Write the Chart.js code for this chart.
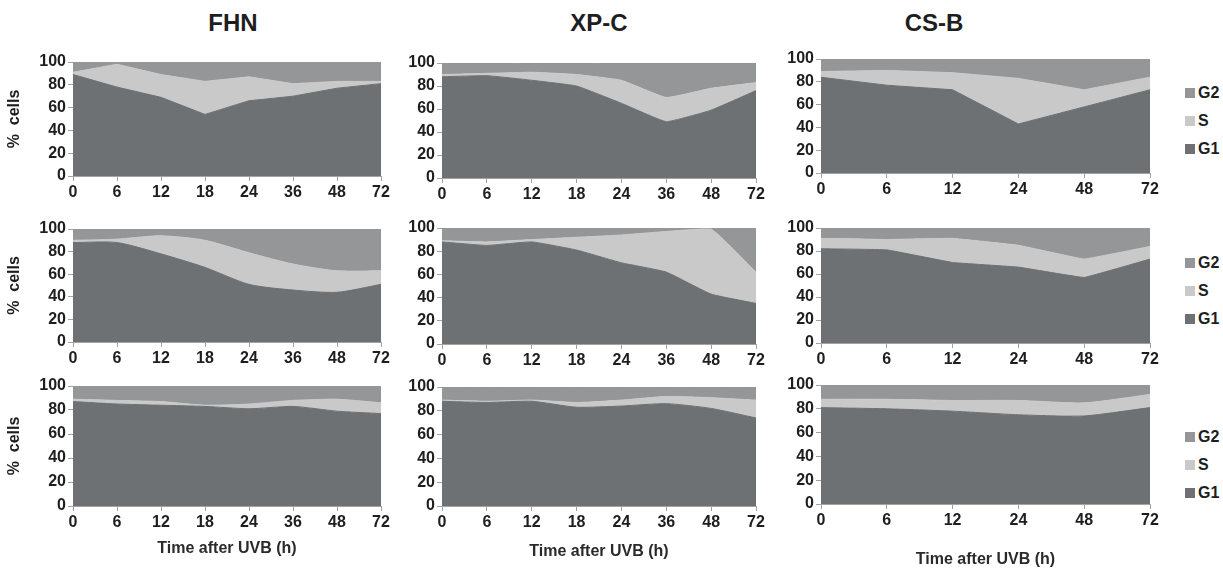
<!DOCTYPE html>
<html>
<head>
<meta charset="utf-8">
<script src="https://cdn.jsdelivr.net/npm/chart.js@4.4.1/dist/chart.umd.min.js"></script>
<style>
  body { margin: 0; background: #fff; width: 1223px; height: 575px; position: relative; overflow: hidden;
         font-family: "Liberation Sans", Arial, sans-serif; }
  canvas { position: absolute; }
  .title { position: absolute; font-weight: bold; font-size: 24px; line-height: 28px; color: #1e1e1e; transform: translateX(-50%); }
  .legend { position: absolute; left: 1185px; font-weight: bold; font-size: 16px; color: #1e1e1e; }
  .legend div { height: 28px; display: flex; align-items: center; }
  .legend .sw { width: 10px; height: 10px; margin-right: 3px; display: inline-block; }
</style>
</head>
<body>
<div class="title" style="left:233px;top:9px">FHN</div>
<div class="title" style="left:599px;top:9px">XP-C</div>
<div class="title" style="left:934px;top:9px">CS-B</div>

<script>
// time points (h)
const hours8 = ['0', '6', '12', '18', '24', '36', '48', '72'];
const hours6 = ['0', '6', '12', '24', '48', '72'];
const phases = ['G1', 'S', 'G2'];

// row 1
const fhn1G1 = [89, 78, 69, 54, 66, 70, 77, 81];
const fhn1S  = [2, 20, 20, 29, 21, 11, 6, 2];
const fhn1G2 = [9, 2, 11, 17, 13, 19, 17, 17];
const xpc1G1 = [88, 89, 85, 80, 65, 49, 59, 76];
const xpc1S  = [2, 2, 7, 10, 20, 21, 19, 7];
const xpc1G2 = [10, 9, 8, 10, 15, 30, 22, 17];
const csb1G1 = [84, 77, 73, 43, 58, 73];
const csb1S  = [5, 13, 15, 40, 15, 11];
const csb1G2 = [11, 10, 12, 17, 27, 16];

// row 2
const fhn2G1 = [88, 88, 78, 66, 51, 46, 44, 51];
const fhn2S  = [2, 3, 16, 24, 28, 23, 19, 12];
const fhn2G2 = [10, 9, 6, 10, 21, 31, 37, 37];
const xpc2G1 = [88, 85, 88, 81, 70, 62, 43, 35];
const xpc2S  = [1, 3, 2, 11, 24, 35, 56, 27];
const xpc2G2 = [11, 12, 10, 8, 6, 3, 1, 38];
const csb2G1 = [82, 81, 70, 66, 57, 73];
const csb2S  = [9, 9, 21, 19, 16, 11];
const csb2G2 = [9, 10, 9, 15, 27, 16];

// row 3
const fhn3G1 = [87, 85, 84, 83, 81, 83, 79, 77];
const fhn3S  = [2, 3, 3, 1, 4, 5, 10, 9];
const fhn3G2 = [11, 12, 13, 16, 15, 12, 11, 14];
const xpc3G1 = [88, 87, 88, 83, 84, 86, 82, 74];
const xpc3S  = [1, 1, 1, 4, 5, 6, 9, 15];
const xpc3G2 = [11, 12, 11, 13, 11, 8, 9, 11];
const csb3G1 = [81, 80, 78, 75, 74, 81];
const csb3S  = [7, 8, 9, 12, 11, 11];
const csb3G2 = [12, 12, 13, 13, 15, 8];

const colors = { G1: '#6d7173', S: '#c9c9c9', G2: '#949698' };
const axisColor = '#a3a3a3';
const textColor = '#1e1e1e';

// plot area edges per column, and per panel top/bottom
const cols = [
  { left: 73, right: 381 },
  { left: 442, right: 756 },
  { left: 821, right: 1150 }
];

const panels = [
  { col: 0, row: 0, labels: hours8, data: [fhn1G1, fhn1S, fhn1G2], top: 62, bottom: 176, tension: 0 },
  { col: 1, row: 0, labels: hours8, data: [xpc1G1, xpc1S, xpc1G2], top: 63, bottom: 178, tension: 0.1 },
  { col: 2, row: 0, labels: hours6, data: [csb1G1, csb1S, csb1G2], top: 59, bottom: 173, tension: 0 },
  { col: 0, row: 1, labels: hours8, data: [fhn2G1, fhn2S, fhn2G2], top: 229, bottom: 342, tension: 0.25 },
  { col: 1, row: 1, labels: hours8, data: [xpc2G1, xpc2S, xpc2G2], top: 228, bottom: 344, tension: 0.12 },
  { col: 2, row: 1, labels: hours6, data: [csb2G1, csb2S, csb2G2], top: 228, bottom: 343, tension: 0.05 },
  { col: 0, row: 2, labels: hours8, data: [fhn3G1, fhn3S, fhn3G2], top: 386, bottom: 506, tension: 0.2, xH: 56 },
  { col: 1, row: 2, labels: hours8, data: [xpc3G1, xpc3S, xpc3G2], top: 387, bottom: 506, tension: 0.2, xH: 59 },
  { col: 2, row: 2, labels: hours6, data: [csb3G1, csb3S, csb3G2], top: 385, bottom: 504, tension: 0.2, xH: 69 }
];

const tickFont = { family: '"Liberation Sans", Arial, sans-serif', size: 16, weight: 'bold' };

function makeChart(p) {
  const c = cols[p.col];
  const yW = p.col === 0 ? 73 : 45;
  const padTop = 12, padRight = 14;
  const xH = p.xH || 30;
  const w = yW + (c.right - c.left) + padRight;
  const h = padTop + (p.bottom - p.top) + xH;

  const canvas = document.createElement('canvas');
  canvas.width = w;
  canvas.height = h;
  canvas.style.left = (c.left - yW) + 'px';
  canvas.style.top = (p.top - padTop) + 'px';
  canvas.style.width = w + 'px';
  canvas.style.height = h + 'px';
  document.body.appendChild(canvas);

  new Chart(canvas.getContext('2d'), {
    type: 'line',
    data: {
      labels: p.labels,
      datasets: phases.map((name, i) => ({
        label: name,
        data: p.data[i],
        backgroundColor: colors[name],
        borderColor: colors[name],
        borderWidth: 1,
        pointRadius: 0,
        tension: p.tension,
        fill: i === 0 ? 'origin' : '-1'
      }))
    },
    options: {
      responsive: false,
      animation: false,
      layout: { padding: { top: padTop, right: padRight, left: 0, bottom: 0 } },
      plugins: { legend: { display: false }, tooltip: { enabled: false } },
      scales: {
        x: {
          offset: false,
          grid: { drawOnChartArea: false, tickLength: 5, color: axisColor },
          border: { color: axisColor },
          ticks: { font: tickFont, color: textColor, padding: 2, maxRotation: 0, autoSkip: false },
          title: {
            display: p.row === 2,
            text: 'Time after UVB (h)',
            font: { family: '"Liberation Sans", Arial, sans-serif', size: 16, weight: 'bold' },
            color: '#2a2a2a',
            padding: { top: 0, bottom: 4 }
          },
          afterFit: s => { s.height = xH; }
        },
        y: {
          stacked: true,
          min: 0,
          max: 100,
          grid: { drawOnChartArea: false, tickLength: 5, color: axisColor },
          border: { color: axisColor },
          ticks: { stepSize: 20, font: tickFont, color: textColor, padding: 2 },
          title: {
            display: p.col === 0,
            text: '%  cells',
            font: { family: '"Liberation Sans", Arial, sans-serif', size: 16, weight: 'bold' },
            color: textColor,
            padding: { top: 5, bottom: 0 }
          },
          afterFit: s => { s.width = yW; }
        }
      }
    }
  });

  // legend beside the right-hand column
  if (p.col === 2) {
    const mid = (p.top + p.bottom) / 2 + (p.row === 2 ? 20 : 5);
    const box = document.createElement('div');
    box.className = 'legend';
    box.style.top = (mid - 28 - 14) + 'px';
    phases.slice().reverse().forEach(name => {
      const item = document.createElement('div');
      item.innerHTML = '<span class="sw" style="background:' + colors[name] + '"></span>' + name;
      box.appendChild(item);
    });
    document.body.appendChild(box);
  }
}

panels.forEach(makeChart);
</script>
</body>
</html>
